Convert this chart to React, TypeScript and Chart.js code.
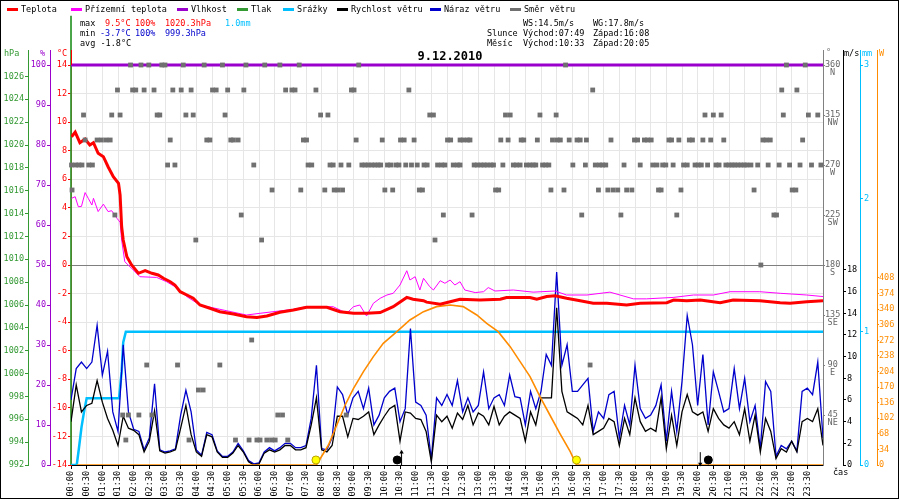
import React, { useEffect, useRef } from 'react';
import { Chart, registerables } from 'chart.js';

Chart.register(...registerables);

const FONT = '"DejaVu Sans Mono", "Liberation Mono", monospace';
const FS = 8.5;

const C = {
  temp: '#ff0000',
  feels: '#ff00ff',
  hum: '#9900cc',
  press: '#339933',
  rain: '#00bfff',
  wind: '#000000',
  gust: '#0000cc',
  dir: '#707070',
  dirAxis: '#808080',
  rad: '#ff8c00',
  minText: '#0000cc',
};

// ---------- data (times in minutes after midnight) ----------
const tempTimes = [1, 8, 17, 27, 36, 43, 52, 62, 71, 81, 91, 94, 97, 100, 107, 116, 129, 142, 155, 167, 177, 190, 199, 209, 222, 234, 247, 266, 285, 311, 336, 356, 375, 400, 426, 451, 490, 515, 541, 566, 592, 617, 643, 655, 675, 681, 707, 745, 783, 822, 834, 879, 892, 911, 927, 949, 975, 1000, 1026, 1064, 1090, 1141, 1154, 1179, 1205, 1243, 1268, 1319, 1358, 1377, 1409, 1440];
const tempValues = [8.98, 9.3, 8.56, 8.82, 8.4, 8.56, 7.82, 7.58, 6.88, 6.18, 5.72, 4.9, 2.68, 1.75, 0.58, 0, -0.58, -0.4, -0.58, -0.7, -0.93, -1.17, -1.4, -1.87, -2.1, -2.33, -2.8, -3.03, -3.27, -3.43, -3.62, -3.68, -3.57, -3.31, -3.15, -2.96, -2.96, -3.27, -3.38, -3.38, -3.33, -2.92, -2.27, -2.4, -2.5, -2.6, -2.75, -2.4, -2.45, -2.4, -2.28, -2.27, -2.4, -2.21, -2.15, -2.33, -2.5, -2.68, -2.68, -2.8, -2.68, -2.64, -2.45, -2.5, -2.45, -2.64, -2.45, -2.5, -2.64, -2.68, -2.57, -2.5];

const feelsTimes = [1, 8, 14, 20, 27, 33, 40, 43, 52, 62, 71, 78, 88, 94, 97, 103, 116, 132, 164, 183, 199, 222, 247, 285, 336, 362, 426, 451, 502, 528, 541, 553, 566, 579, 592, 605, 617, 630, 643, 649, 659, 668, 675, 687, 694, 707, 716, 726, 735, 745, 754, 774, 790, 799, 812, 847, 885, 927, 949, 988, 1032, 1077, 1102, 1153, 1192, 1230, 1262, 1319, 1358, 1409, 1440];
const feelsValues = [4.67, 4.78, 4.08, 4.1, 5.07, 4.67, 4.2, 4.67, 3.74, 4.26, 3.74, 3.8, 3.27, 3.0, 1.75, 0.23, -0.23, -0.82, -0.87, -1.17, -1.52, -2.22, -2.8, -3.1, -3.5, -3.38, -3.1, -2.92, -2.92, -3.38, -2.92, -2.8, -3.57, -2.68, -2.33, -2.1, -1.98, -1.4, -0.4, -1.05, -0.82, -1.75, -0.93, -1.52, -1.75, -1.1, -1.28, -1.05, -1.4, -1.17, -1.75, -1.93, -1.87, -1.58, -1.82, -1.75, -1.9, -1.82, -2.1, -2.1, -1.9, -2.37, -2.37, -2.27, -2.1, -2.1, -1.87, -1.87, -1.98, -2.1, -2.21];

const humidityTimes = [0, 1440];
const humidityValues = [100, 100];

const pressureTimes = [0, 0];
const pressureValues = [1031.3, 992];

const rainTimes = [0, 11, 15, 20, 25, 30, 92, 97, 100, 105, 1440];
const rainValues = [0, 0, 0.12, 0.28, 0.4, 0.5, 0.5, 0.7, 0.92, 1.0, 1.0];

const WIND_STEP = 10; // minutes between wind samples
const windSpeed = [
  4.0, 7.4, 4.9, 5.5, 5.7, 7.8, 5.8, 4.3, 3.2, 1.8,
  4.5, 3.4, 3.2, 2.8, 1.2, 2.2, 5.0, 1.3, 1.1, 1.2,
  1.4, 3.4, 5.5, 2.8, 1.2, 0.8, 2.8, 2.6, 1.2, 0.7,
  0.7, 1.1, 1.8, 1.2, 0.3, 0.0, 0.1, 1.1, 1.4, 1.2,
  1.4, 1.8, 1.8, 1.4, 1.4, 1.6, 3.7, 6.2, 1.4, 1.2,
  1.8, 4.5, 4.5, 2.6, 4.3, 4.2, 4.5, 4.9, 2.8, 3.7,
  4.5, 5.2, 5.5, 2.2, 4.9, 4.8, 4.3, 4.2, 3.1, 0.3,
  4.6, 4.0, 4.5, 3.4, 4.8, 4.2, 5.5, 3.7, 4.8, 4.5,
  3.7, 5.4, 3.7, 4.5, 4.9, 4.6, 4.3, 2.2, 4.9, 3.7,
  6.2, 6.2, 6.2, 14.5, 6.8, 4.9, 4.6, 4.3, 3.7, 5.5,
  2.8, 3.1, 3.4, 4.3, 4.0, 1.8, 4.3, 2.8, 6.2, 4.0,
  3.1, 3.4, 3.1, 6.2, 1.5, 4.6, 1.8, 4.9, 6.5, 4.9,
  4.6, 4.9, 3.1, 5.2, 4.3, 3.7, 3.4, 4.0, 2.8, 5.2,
  2.2, 4.6, 1.2, 4.3, 3.1, 0.6, 1.5, 1.2, 2.2, 1.2,
  4.0, 4.3, 4.0, 5.2, 1.8,
];
const windGust = [
  6.0, 8.9, 9.5, 8.9, 9.5, 12.9, 8.3, 10.5, 4.9, 3.1,
  11.1, 4.9, 3.3, 3.1, 1.4, 2.5, 7.5, 1.4, 1.2, 1.3,
  1.5, 4.6, 6.9, 4.9, 1.4, 0.9, 3.0, 2.8, 1.3, 0.8,
  0.8, 1.2, 2.0, 1.3, 0.4, 0.1, 0.2, 1.2, 1.6, 1.3,
  1.6, 2.0, 2.0, 1.6, 1.6, 1.8, 4.3, 9.2, 1.5, 1.4,
  2.5, 7.2, 6.5, 4.6, 6.2, 6.8, 5.2, 7.1, 3.7, 4.6,
  6.2, 6.8, 7.1, 4.0, 5.2, 12.6, 5.8, 5.5, 4.6, 0.5,
  6.2, 5.5, 6.5, 5.5, 7.8, 4.9, 6.2, 4.9, 5.5, 8.6,
  5.2, 6.2, 6.5, 5.5, 8.3, 6.3, 6.2, 3.7, 6.8, 5.2,
  6.8, 10.2, 9.2, 17.8, 9.2, 11.1, 6.8, 6.8, 7.4, 8.0,
  3.1, 4.9, 4.3, 6.5, 6.8, 2.5, 5.5, 3.7, 9.2, 5.2,
  4.3, 4.6, 5.5, 7.4, 2.2, 6.8, 3.1, 7.7, 13.8, 11.1,
  5.5, 10.2, 3.7, 8.6, 6.8, 4.9, 5.2, 8.9, 5.2, 8.0,
  4.0, 5.5, 1.5, 7.7, 6.8, 0.8, 1.8, 1.5, 2.2, 1.3,
  6.8, 7.1, 6.5, 9.5, 2.5,
];

const radTimes = [11, 470, 493, 509, 525, 541, 560, 579, 598, 624, 649, 675, 700, 726, 751, 777, 796, 818, 841, 860, 879, 898, 917, 936, 956, 968, 1440];
const radValues = [0, 0, 43.6, 87.3, 130.9, 167.3, 203.6, 236.4, 265.5, 290.9, 316.4, 334.5, 345.5, 349.1, 345.5, 327.3, 309.1, 290.9, 258.2, 225.5, 192.7, 149.1, 109.1, 69.1, 29.1, 0, 0];

// wind direction samples, grouped by compass sector (minutes)
const dirN = [114, 134, 149, 174, 180, 215, 255, 290, 335, 371, 400, 437, 551, 947, 1370, 1406];
const dirNNW = [89, 118, 124, 140, 159, 195, 211, 230, 271, 278, 300, 331, 411, 423, 429, 469, 537, 542, 647, 999, 1361, 1390];
const dirNW = [24, 78, 94, 165, 170, 220, 234, 295, 478, 492, 687, 694, 832, 841, 898, 929, 1214, 1230, 1245, 1364, 1412, 1430];
const dirWNW = [27, 50, 58, 67, 75, 190, 260, 266, 306, 311, 320, 445, 451, 546, 596, 631, 638, 657, 721, 727, 745, 751, 759, 764, 823, 837, 862, 867, 893, 922, 931, 937, 954, 969, 975, 987, 1034, 1079, 1085, 1098, 1104, 1111, 1145, 1150, 1164, 1184, 1190, 1210, 1225, 1250, 1325, 1331, 1339, 1401];
const dirW = [1, 9, 15, 21, 34, 41, 185, 199, 350, 454, 461, 496, 502, 517, 532, 557, 563, 569, 576, 582, 588, 593, 606, 612, 622, 628, 641, 652, 663, 676, 682, 702, 710, 716, 732, 740, 745, 772, 778, 785, 791, 797, 804, 809, 827, 847, 853, 860, 872, 879, 885, 890, 903, 909, 915, 961, 985, 1004, 1012, 1018, 1024, 1059, 1090, 1114, 1122, 1133, 1139, 1153, 1173, 1180, 1195, 1201, 1207, 1219, 1235, 1241, 1254, 1260, 1266, 1271, 1277, 1283, 1289, 1294, 1302, 1315, 1335, 1356, 1376, 1396, 1418, 1436];
const dirWSW = [2, 385, 440, 486, 504, 511, 520, 601, 616, 667, 673, 813, 819, 919, 944, 1010, 1028, 1038, 1047, 1064, 1074, 1125, 1130, 1168, 1308, 1381, 1388];
const dirSW = [84, 326, 713, 768, 978, 1053, 1160, 1346, 1351];
const dirSSW = [239, 365, 697];
const dirS = [1321];
const dirESE = [346];
const dirE = [145, 204, 285, 994];
const dirENE = [244, 253];
const dirNE = [99, 110, 130, 155, 396, 405, 527];
const dirNNE = [105, 226, 315, 341, 356, 362, 375, 384, 391, 415];

const dirSectors: [number, number[]][] = [
  [360, dirN], [337.5, dirNNW], [315, dirNW], [292.5, dirWNW], [270, dirW], [247.5, dirWSW],
  [225, dirSW], [202.5, dirSSW], [180, dirS], [112.5, dirESE], [90, dirE], [67.5, dirENE],
  [45, dirNE], [22.5, dirNNE],
];

// sun & moon
const sunRise = '07:49';
const sunSet = '16:08';
const moonRise = '10:33';
const moonSet = '20:05';
const moonDotHours = [10.41, 20.34];
const MARK_W = 11; // marker level on W axis
const ARROW_W = 28;

// axis ticks
const tempTicks = [-14, -12, -10, -8, -6, -4, -2, 0, 2, 4, 6, 8, 10, 12, 14];
const humTicks = [0, 10, 20, 30, 40, 50, 60, 70, 80, 90, 100];
const pressTicks = [992, 994, 996, 998, 1000, 1002, 1004, 1006, 1008, 1010, 1012, 1014, 1016, 1018, 1020, 1022, 1024, 1026];
const windTicks = [0, 2, 4, 6, 8, 10, 12, 14, 16, 18];
const rainTicks = [0, 1, 2, 3];
const radTicks = [0, 34, 68, 102, 136, 170, 204, 238, 272, 306, 340, 374, 408];
const dirTicks = [45, 90, 135, 180, 225, 270, 315, 360];
const dirNames = ['NE', 'E', 'SE', 'S', 'SW', 'W', 'NW', 'N'];
const hourTicks = Array.from({ length: 49 }, (_, i) => i / 2);

// texts
const legendLabels = ['Teplota', 'Přízemní teplota', 'Vlhkost', 'Tlak', 'Srážky', 'Rychlost větru', 'Náraz větru', 'Směr větru'];
const legendColors = [C.temp, C.feels, C.hum, C.press, C.rain, C.wind, C.gust, C.dir];
const legendX = [7, 71, 177, 237, 283, 337, 430, 510];
const statMax = ['9.5°C', '100%', '1020.3hPa', '1.0mm'];
const statMin = ['-3.7°C', '100%', '999.3hPa'];
const statAvg = '-1.8°C';
const windMax = ['WS:14.5m/s', 'WG:17.8m/s'];
const dateTitle = '9.12.2010';

// ---------- helpers ----------
const toHours = (s: string) => {
  const [h, m] = s.split(':').map(Number);
  return h + m / 60;
};
const hhmm = (h: number) => {
  const m = Math.round(h * 60);
  return `${String(Math.floor(m / 60)).padStart(2, '0')}:${String(m % 60).padStart(2, '0')}`;
};
const pts = (times: number[], values: number[]) => times.map((t, i) => ({ x: t / 60, y: values[i] }));
const stepPts = (values: number[]) => values.map((v, i) => ({ x: (i * WIND_STEP) / 60, y: v }));
const font = (size = FS) => ({ family: FONT, size, lineHeight: 1.2 });

function yAxis(o: {
  position: 'left' | 'right';
  min: number;
  max: number;
  weight: number;
  ticks: number[];
  width: number;
  color: string;
  tickColor?: string;
  callback?: (v: number) => any;
  extra?: any;
  gridExtra?: any;
}) {
  return {
    type: 'linear',
    position: o.position,
    min: o.min,
    max: o.max,
    bounds: 'data',
    weight: o.weight,
    afterBuildTicks: (s: any) => {
      s.ticks = o.ticks.map((v) => ({ value: v }));
    },
    afterFit: (s: any) => {
      s.width = o.width;
    },
    ticks: {
      color: o.tickColor || o.color,
      font: font(),
      padding: 1,
      autoSkip: false,
      callback: o.callback || ((v: number) => String(v)),
      ...(o.extra || {}),
    },
    grid: {
      drawOnChartArea: false,
      color: o.color,
      tickColor: o.color,
      tickLength: 3,
      ...(o.gridExtra || {}),
    },
    border: { color: o.color, width: 1 },
  };
}

const decorPlugin = {
  id: 'decor',
  afterDraw(chart: any) {
    const ctx: CanvasRenderingContext2D = chart.ctx;
    const top = chart.chartArea.top;
    ctx.save();

    // axis lines continue up to the unit labels
    const ext: [string, 'left' | 'right', string][] = [
      ['yPress', 'left', C.press],
      ['yHum', 'left', C.hum],
      ['yTemp', 'left', C.temp],
      ['yDir', 'right', C.dirAxis],
      ['yWind', 'right', C.wind],
      ['yRain', 'right', C.rain],
      ['yRad', 'right', C.rad],
    ];
    ctx.lineWidth = 1;
    ext.forEach(([id, side, color]) => {
      const s = chart.scales[id];
      const edge = side === 'left' ? s.right : s.left;
      const x = Math.round(edge - 0.5) + 0.5;
      ctx.strokeStyle = color;
      ctx.beginPath();
      ctx.moveTo(x, 50);
      ctx.lineTo(x, top);
      ctx.stroke();
    });

    ctx.font = `${FS}px ${FONT}`;
    ctx.textBaseline = 'middle';
    ctx.textAlign = 'left';

    const text = (s: string, color: string, x: number, y: number) => {
      ctx.fillStyle = color;
      ctx.fillText(s, x, y);
    };

    // unit labels
    text('hPa', C.press, 4, 54);
    text('%', C.hum, 40, 54);
    text('°C', C.temp, 57, 54);
    text('°', C.dir, 826, 53);
    text('m/s', C.wind, 844, 54);
    text('mm', C.rain, 862, 54);
    text('W', C.rad, 879, 54);
    text('čas', '#000', 833, 473);

    // legend
    legendLabels.forEach((label, i) => {
      ctx.fillStyle = legendColors[i];
      ctx.fillRect(legendX[i], 8, 11, 3);
      text(label, '#000', legendX[i] + 14, 9.5);
    });

    // statistics
    text('max', '#000', 80, 24);
    text(statMax[0], C.temp, 105, 24);
    text(statMax[1], C.temp, 135, 24);
    text(statMax[2], C.temp, 165, 24);
    text(statMax[3], C.rain, 225, 24);
    text('min', '#000', 80, 34);
    text(statMin[0], C.minText, 100, 34);
    text(statMin[1], C.minText, 135, 34);
    text(statMin[2], C.minText, 165, 34);
    text('avg ' + statAvg, '#000', 80, 44);

    text(windMax[0], '#000', 523, 24);
    text(windMax[1], '#000', 593, 24);
    text('Slunce', '#000', 487, 34);
    text('Východ:' + sunRise, '#000', 523, 34);
    text('Západ:' + sunSet, '#000', 593, 34);
    text('Měsíc', '#000', 487, 44);
    text('Východ:' + moonRise, '#000', 523, 44);
    text('Západ:' + moonSet, '#000', 593, 44);

    // frame
    ctx.strokeStyle = '#000';
    ctx.strokeRect(0.5, 0.5, 898, 498);
    ctx.restore();
  },
};

export default function App() {
  const ref = useRef<HTMLCanvasElement>(null);

  useEffect(() => {
    if (!ref.current) return;

    const dirData: { x: number; y: number }[] = [];
    dirSectors.forEach(([deg, times]) => times.forEach((t) => dirData.push({ x: t / 60, y: deg })));

    const rise = toHours(moonRise);
    const set = toHours(moonSet);

    const datasets: any[] = [
      {
        label: 'sun',
        yAxisID: 'yRad',
        data: [toHours(sunRise), toHours(sunSet)].map((h) => ({ x: h, y: MARK_W })),
        showLine: false,
        pointRadius: 4,
        pointBackgroundColor: '#ffff00',
        pointBorderColor: '#b8a000',
        pointBorderWidth: 1,
        clip: false,
      },
      {
        label: 'moon',
        yAxisID: 'yRad',
        data: moonDotHours.map((h) => ({ x: h, y: MARK_W })),
        showLine: false,
        pointRadius: 4,
        pointBackgroundColor: '#000',
        pointBorderColor: '#000',
        pointBorderWidth: 1,
        clip: false,
      },
      {
        label: 'moonrise',
        yAxisID: 'yRad',
        data: [{ x: rise, y: 0 }, { x: rise, y: ARROW_W }],
        borderColor: '#000',
        borderWidth: 1,
        pointRadius: [0, 2.5],
        pointStyle: 'triangle',
        pointBackgroundColor: '#000',
        pointBorderWidth: 0,
        clip: false,
      },
      {
        label: 'moonset',
        yAxisID: 'yRad',
        data: [{ x: set, y: 2 }, { x: set, y: ARROW_W }],
        borderColor: '#000',
        borderWidth: 1,
        pointRadius: [2.5, 0],
        pointStyle: 'triangle',
        pointRotation: 180,
        pointBackgroundColor: '#000',
        pointBorderWidth: 0,
        clip: false,
      },
      {
        label: 'Směr větru',
        yAxisID: 'yDir',
        data: dirData,
        showLine: false,
        pointStyle: 'rect',
        pointRadius: 3.4,
        pointBackgroundColor: C.dir,
        pointBorderWidth: 0,
        clip: false,
      },
      {
        label: 'Teplota',
        yAxisID: 'yTemp',
        data: pts(tempTimes, tempValues),
        borderColor: C.temp,
        borderWidth: 3,
        pointRadius: 0,
      },
      {
        label: 'Přízemní teplota',
        yAxisID: 'yTemp',
        data: pts(feelsTimes, feelsValues),
        borderColor: C.feels,
        borderWidth: 1,
        pointRadius: 0,
      },
      {
        label: 'Sluneční záření',
        yAxisID: 'yRad',
        data: pts(radTimes, radValues),
        borderColor: C.rad,
        borderWidth: 1.6,
        pointRadius: 0,
      },
      {
        label: 'Rychlost větru',
        yAxisID: 'yWind',
        data: stepPts(windSpeed),
        borderColor: C.wind,
        borderWidth: 1.3,
        pointRadius: 0,
      },
      {
        label: 'Náraz větru',
        yAxisID: 'yWind',
        data: stepPts(windGust),
        borderColor: C.gust,
        borderWidth: 1.3,
        pointRadius: 0,
      },
      {
        label: 'Srážky',
        yAxisID: 'yRain',
        data: pts(rainTimes, rainValues),
        borderColor: C.rain,
        borderWidth: 2.5,
        pointRadius: 0,
      },
      {
        label: 'Vlhkost',
        yAxisID: 'yHum',
        data: pts(humidityTimes, humidityValues),
        borderColor: C.hum,
        borderWidth: 3,
        pointRadius: 0,
        clip: false,
      },
      {
        label: 'Tlak',
        yAxisID: 'yPress',
        data: pts(pressureTimes, pressureValues),
        borderColor: C.press,
        borderWidth: 1,
        pointRadius: 0,
        clip: false,
      },
    ];

    const chart = new Chart(ref.current, {
      type: 'line',
      data: { datasets },
      plugins: [decorPlugin],
      options: {
        animation: false,
        responsive: false,
        events: [],
        layout: { padding: 0 },
        plugins: {
          legend: { display: false },
          tooltip: { enabled: false },
          title: {
            display: true,
            text: dateTitle,
            color: '#000',
            font: { family: FONT, size: 12, weight: 'bold', lineHeight: 1 },
            padding: { top: 51, bottom: 2 },
          },
        },
        scales: {
          x: {
            type: 'linear',
            position: 'bottom',
            min: 0,
            max: 24,
            bounds: 'data',
            afterBuildTicks: (s: any) => {
              s.ticks = hourTicks.map((v) => ({ value: v }));
            },
            afterFit: (s: any) => {
              s.height = 35;
            },
            ticks: {
              autoSkip: false,
              minRotation: 90,
              maxRotation: 90,
              padding: 2,
              color: '#000',
              font: font(),
              callback: (v: any) => (Number(v) >= 24 ? null : hhmm(Number(v))),
            },
            grid: { color: '#e6e6e6', tickColor: '#000', tickLength: 4, lineWidth: 1 },
            border: { color: '#000' },
          },
          yTemp: yAxis({
            position: 'left', min: -14, max: 14, weight: 0, ticks: tempTicks, width: 21, color: C.temp,
            gridExtra: {
              drawOnChartArea: true,
              color: (c: any) => (c.tick && c.tick.value === 0 ? '#7f7f7f' : '#e6e6e6'),
              tickColor: C.temp,
            },
          }),
          yHum: yAxis({ position: 'left', min: 0, max: 100, weight: 1, ticks: humTicks, width: 22, color: C.hum }),
          yPress: yAxis({ position: 'left', min: 992, max: 1027, weight: 2, ticks: pressTicks, width: 28, color: C.press }),
          yDir: yAxis({
            position: 'right', min: 0, max: 360, weight: 0, ticks: dirTicks, width: 20, color: C.dirAxis, tickColor: '#666',
            callback: (v: number) => [String(v), dirNames[dirTicks.indexOf(v)]],
            extra: { crossAlign: 'center', labelOffset: 4, padding: 0, font: { family: FONT, size: FS, lineHeight: 0.95 } },
            gridExtra: { tickLength: 2 },
          }),
          yWind: yAxis({ position: 'right', min: 0, max: 36.92, weight: 1, ticks: windTicks, width: 17, color: C.wind }),
          yRain: yAxis({ position: 'right', min: 0, max: 3, weight: 2, ticks: rainTicks, width: 17, color: C.rain }),
          yRad: yAxis({
            position: 'right', min: 0, max: 872.7, weight: 3, ticks: radTicks, width: 23, color: C.rad,
            extra: { padding: 0 }, gridExtra: { tickLength: 2 },
          }),
        } as any,
      } as any,
    });

    return () => chart.destroy();
  }, []);

  return (
    <div style={{ position: 'absolute', left: 0, top: 0, width: 900, height: 500, background: '#fff' }}>
      <canvas ref={ref} width={900} height={500} style={{ display: 'block', width: 900, height: 500 }} />
    </div>
  );
}
